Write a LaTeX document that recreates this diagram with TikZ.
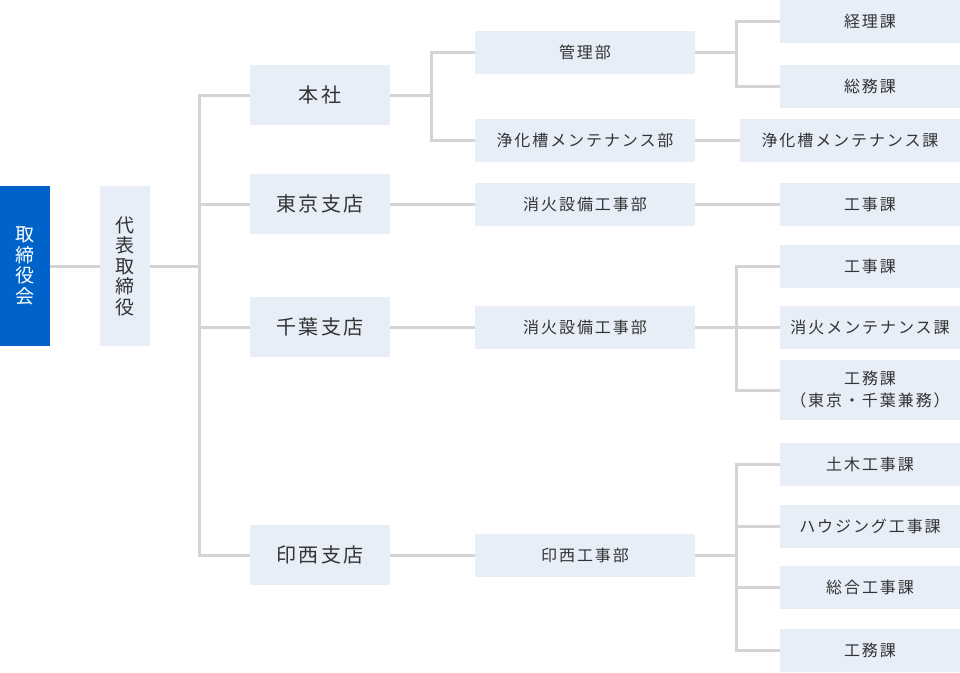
\documentclass[tikz,border=0pt]{standalone}
\usepackage{fontspec}
\setmainfont{Noto Sans CJK JP}
\newfontfamily\jpspaced[LetterSpace=12]{Noto Sans CJK JP}
\usepackage{tikz}
\usetikzlibrary{positioning}

\definecolor{boardblue}{HTML}{0063C9}
\definecolor{boxfill}{HTML}{E7EEF8}
\definecolor{linegray}{HTML}{D4D4D4}
\definecolor{textgray}{HTML}{333333}

\begin{document}
\begin{tikzpicture}[
    x=1pt, y=-1pt,
    box/.style={rectangle, fill=boxfill, text=textgray, inner sep=0pt, align=center},
    vbox/.style={box, minimum width=50pt, minimum height=160pt, font=\fontsize{19}{20.5}\selectfont},
    branch/.style={box, minimum width=140pt, minimum height=60pt, font=\jpspaced\fontsize{20}{24}\selectfont},
    dept/.style={box, minimum width=220pt, minimum height=43pt, font=\jpspaced\fontsize{16}{19}\selectfont},
    sect/.style={box, minimum width=180pt, minimum height=43pt, font=\jpspaced\fontsize{16}{19}\selectfont},
    line/.style={draw=linegray, line width=3pt}
]
\useasboundingbox (0,0) rectangle (960,672);

% board and president
\node [vbox, fill=boardblue, text=white] (board) at (25,266) {取\\締\\役\\会};
\node [vbox] (president) at (125,266) {代\\表\\取\\締\\役};

% branches
\node [branch] (honsha) at (320,95) {本社};
\node [branch] (tokyo) at (320,204) {東京支店};
\node [branch] (chiba) at (320,327) {千葉支店};
\node [branch] (inzai) at (320,555) {印西支店};

% departments
\node [dept] (kanri) at (585,52) {管理部};
\node [dept] (jokaso) at (585,140) {浄化槽メンテナンス部};
\node [dept] (tokyoshoka) at (585,204) {消火設備工事部};
\node [dept] (chibashoka) at (585,327) {消火設備工事部};
\node [dept] (inzaikoji) at (585,555) {印西工事部};

% sections
\node [sect] (keiri) at (870,21) {経理課};
\node [sect] (somu) at (870,86) {総務課};
\node [sect, minimum width=220pt] (jokasoka) at (850,140) {浄化槽メンテナンス課};
\node [sect] (tokyokoji) at (870,204) {工事課};
\node [sect] (chibakoji) at (870,266) {工事課};
\node [sect] (shokamente) at (870,327) {消火メンテナンス課};
\node [sect, minimum height=60pt, font=\jpspaced\fontsize{16}{22}\selectfont] (komu) at (870,390) {工務課\\（東京・千葉兼務）};
\node [sect] (doboku) at (870,464) {土木工事課};
\node [sect] (housing) at (870,526) {ハウジング工事課};
\node [sect] (sogo) at (870,587) {総合工事課};
\node [sect] (inzaikomu) at (870,650) {工務課};

% connectors
\path [line] (board) -- (president);
\foreach \b in {honsha,tokyo,chiba,inzai}
    \path [line] (president.east) -- ++(49,0) |- (\b.west);
\foreach \d in {kanri,jokaso}
    \path [line] (honsha.east) -- ++(41,0) |- (\d.west);
\path [line] (tokyo) -- (tokyoshoka);
\path [line] (chiba) -- (chibashoka);
\path [line] (inzai) -- (inzaikoji);
\foreach \s in {keiri,somu}
    \path [line] (kanri.east) -- ++(41,0) |- (\s.west);
\path [line] (jokaso) -- (jokasoka);
\path [line] (tokyoshoka) -- (tokyokoji);
\foreach \s in {chibakoji,shokamente,komu}
    \path [line] (chibashoka.east) -- ++(41,0) |- (\s.west);
\foreach \s in {doboku,housing,sogo,inzaikomu}
    \path [line] (inzaikoji.east) -- ++(41,0) |- (\s.west);
\end{tikzpicture}
\end{document}
